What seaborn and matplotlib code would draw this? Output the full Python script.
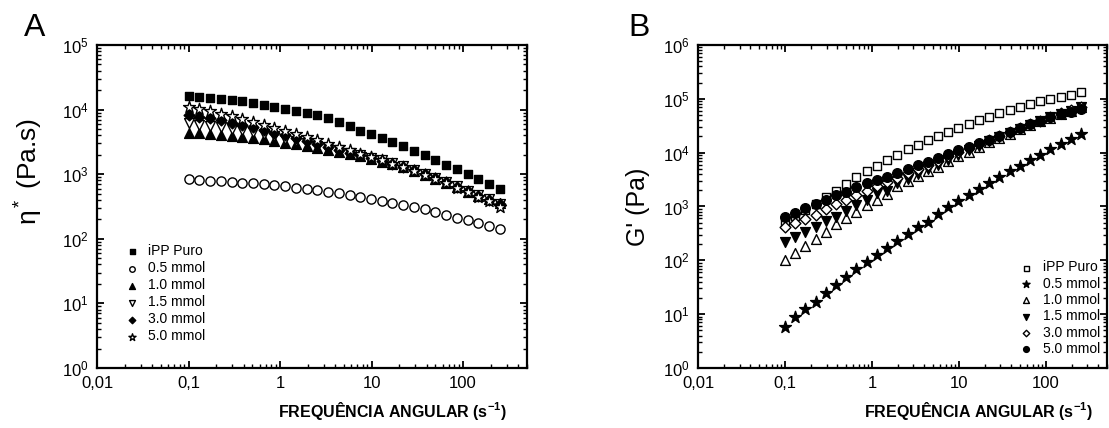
import numpy as np
import pandas as pd
import seaborn as sns
import matplotlib.pyplot as plt
from matplotlib.ticker import LogLocator, FuncFormatter, NullFormatter

# angular frequency (rad/s), same for every sample
freq = [0.1, 0.131, 0.172, 0.225, 0.295, 0.386, 0.506, 0.663, 0.869, 1.14,
        1.49, 1.95, 2.56, 3.35, 4.39, 5.75, 7.53, 9.87, 12.9, 16.9,
        22.2, 29.1, 38.1, 49.9, 65.4, 85.6, 112, 147, 193, 252]

# complex viscosity (Pa.s)
eta_ipp = [16400, 15800, 15300, 14700, 14100, 13500, 12800, 11900, 11100, 10300,
           9620, 8960, 8250, 7490, 6430, 5570, 4710, 4150, 3630, 3150,
           2730, 2310, 1980, 1660, 1400, 1190, 1010, 834, 698, 583]
eta_05 = [834, 813, 794, 776, 757, 739, 722, 698, 673, 650,
          618, 590, 563, 536, 512, 477, 444, 413, 389, 362,
          334, 307, 286, 260, 234, 212, 193, 174, 156, 142]
eta_10 = [4340, 4300, 4190, 4080, 3940, 3800, 3630, 3470, 3260, 3070,
          2900, 2730, 2540, 2370, 2210, 2050, 1910, 1720, 1560, 1420,
          1280, 1120, 973, 844, 738, 634, 536, 465, 413, 355]
eta_15 = [6100, 5850, 5600, 5350, 5050, 4750, 4450, 4150, 3850, 3550,
          3280, 3020, 2780, 2560, 2350, 2160, 1980, 1800, 1630, 1470,
          1320, 1170, 1020, 880, 760, 650, 550, 470, 410, 350]
eta_30 = [8300, 7800, 7300, 6800, 6300, 5800, 5300, 4850, 4400, 3980,
          3600, 3250, 2930, 2640, 2380, 2150, 1960, 1780, 1610, 1450,
          1300, 1150, 1000, 870, 750, 640, 545, 465, 400, 340]
eta_50 = [11000, 10200, 9400, 8600, 7900, 7200, 6500, 5850, 5250, 4700,
          4200, 3750, 3350, 2980, 2650, 2350, 2080, 1850, 1640, 1460,
          1290, 1130, 980, 850, 730, 620, 530, 450, 380, 310]

# storage modulus G' (Pa)
g_ipp = [525, 676, 871, 1120, 1480, 1950, 2570, 3470, 4570, 5750,
         7240, 9120, 11500, 14100, 17200, 20400, 24500, 28700, 34500, 40400,
         46600, 53900, 61200, 70500, 79100, 89900, 99300, 110000, 119000, 132000]
g_05 = [5.85, 8.75, 12.3, 17.0, 24.4, 34.8, 48.4, 68.1, 91.9, 126,
        167, 228, 304, 410, 520, 726, 991, 1260, 1630, 2110,
        2700, 3570, 4560, 5720, 7310, 9060, 11500, 14500, 17900, 22200]
g_10 = [101, 139, 185, 245, 340, 470, 620, 800, 1050, 1320,
        1700, 2400, 3000, 3700, 4500, 5500, 6900, 8600, 10500, 12800,
        15500, 18800, 22500, 27000, 32000, 38000, 44500, 52000, 60000, 70000]
g_15 = [222, 268, 340, 421, 546, 646, 836, 1070, 1320, 1760,
        1950, 2700, 3300, 4000, 4900, 6000, 7400, 9000, 11000, 13400,
        16200, 19500, 23200, 27700, 33000, 38500, 45000, 52500, 60000, 69000]
g_30 = [421, 488, 578, 695, 887, 1110, 1320, 1630, 1960, 2400,
        2880, 3450, 4100, 4900, 5900, 7100, 8500, 10200, 12200, 14500,
        17200, 20300, 24000, 28500, 33500, 39500, 46000, 53500, 61000, 70000]
g_50 = [646, 767, 925, 1110, 1320, 1630, 1880, 2280, 2700, 3100,
        3600, 4200, 4900, 5800, 6800, 8000, 9400, 11000, 12800, 14900,
        17500, 20500, 24000, 28500, 33500, 39000, 45000, 52000, 58000, 66000]

labels = ['iPP Puro', '0.5 mmol', '1.0 mmol', '1.5 mmol', '3.0 mmol', '5.0 mmol']

sns.set_style('ticks')
plt.rcParams['font.family'] = ['Liberation Sans', 'DejaVu Sans']
plt.rcParams['mathtext.fontset'] = 'custom'
plt.rcParams['mathtext.rm'] = 'Liberation Sans'
plt.rcParams['mathtext.it'] = 'Liberation Sans:italic'
plt.rcParams['mathtext.bf'] = 'Liberation Sans:bold'
for key in ['text.color', 'axes.labelcolor', 'xtick.color', 'ytick.color', 'axes.edgecolor']:
    plt.rcParams[key] = 'black'

fig = plt.figure(figsize=(11.09, 4.28), dpi=100)
axA = fig.add_axes([0.0875, 0.1402, 0.3877, 0.7547])
axB = fig.add_axes([0.6294, 0.1402, 0.3686, 0.7547])

# (values, marker, face colour, size)
series_A = [(eta_ipp, 's', 'black', 36),
            (eta_05, 'o', 'white', 44),
            (eta_10, '^', 'black', 50),
            (eta_15, 'v', 'white', 50),
            (eta_30, 'D', 'black', 30),
            (eta_50, '*', 'white', 80)]
series_B = [(g_ipp, 's', 'white', 36),
            (g_05, '*', 'black', 80),
            (g_10, '^', 'white', 50),
            (g_15, 'v', 'black', 50),
            (g_30, 'D', 'white', 30),
            (g_50, 'o', 'black', 48)]


def xfmt(v, pos):
    return {0.01: '0,01', 0.1: '0,1', 1: '1', 10: '10', 100: '100'}.get(round(v, 4), '')


for ax, series, ymax in [(axA, series_A, 1e5), (axB, series_B, 1e6)]:
    for (vals, m, fc, s), lab in zip(series, labels):
        df = pd.DataFrame({'w': freq, 'y': vals})
        sns.scatterplot(data=df, x='w', y='y', ax=ax, marker=m, s=s, color=fc,
                        edgecolor='black', linewidth=1.0, label=lab)
    ax.set_xscale('log')
    ax.set_yscale('log')
    ax.set_xlim(0.01, 500)
    ax.set_ylim(1, ymax)
    ax.xaxis.set_major_locator(LogLocator(base=10, numticks=10))
    ax.xaxis.set_minor_locator(LogLocator(base=10, subs=np.arange(2, 10), numticks=20))
    ax.yaxis.set_major_locator(LogLocator(base=10, numticks=10))
    ax.yaxis.set_minor_locator(LogLocator(base=10, subs=np.arange(2, 10), numticks=20))
    ax.xaxis.set_major_formatter(FuncFormatter(xfmt))
    ax.xaxis.set_minor_formatter(NullFormatter())
    ax.tick_params(which='both', direction='in', top=True, right=True, labelsize=12)
    ax.tick_params(which='major', length=5, width=1.3, pad=6)
    ax.tick_params(which='minor', length=2.6, width=1.0)
    for sp in ax.spines.values():
        sp.set_linewidth(1.6)
    ax.set_xlabel('FREQUÊNCIA ANGULAR (s$^{\\mathbf{-1}}$)', fontsize=11.5, fontweight='bold')
    ax.xaxis.set_label_coords(0.686, -0.10)

axA.set_ylabel('η$^*$ (Pa.s)', fontsize=19)
axA.yaxis.set_label_coords(-0.12, 0.61)
axB.set_ylabel("G' (Pa)", fontsize=18)
axB.yaxis.set_label_coords(-0.118, 0.5)

axA.legend(loc='upper left', bbox_to_anchor=(0.045, 0.405), frameon=False, fontsize=10,
           markerscale=0.6, handlelength=1.2, handletextpad=0.6, labelspacing=0.22,
           borderpad=0)
axB.legend(loc='upper left', bbox_to_anchor=(0.765, 0.355), frameon=False, fontsize=10,
           markerscale=0.6, handlelength=1.2, handletextpad=0.6, labelspacing=0.17,
           borderpad=0)

fig.text(0.022, 0.915, 'A', fontsize=23)
fig.text(0.567, 0.915, 'B', fontsize=23)

plt.savefig('out.png', dpi=100)
